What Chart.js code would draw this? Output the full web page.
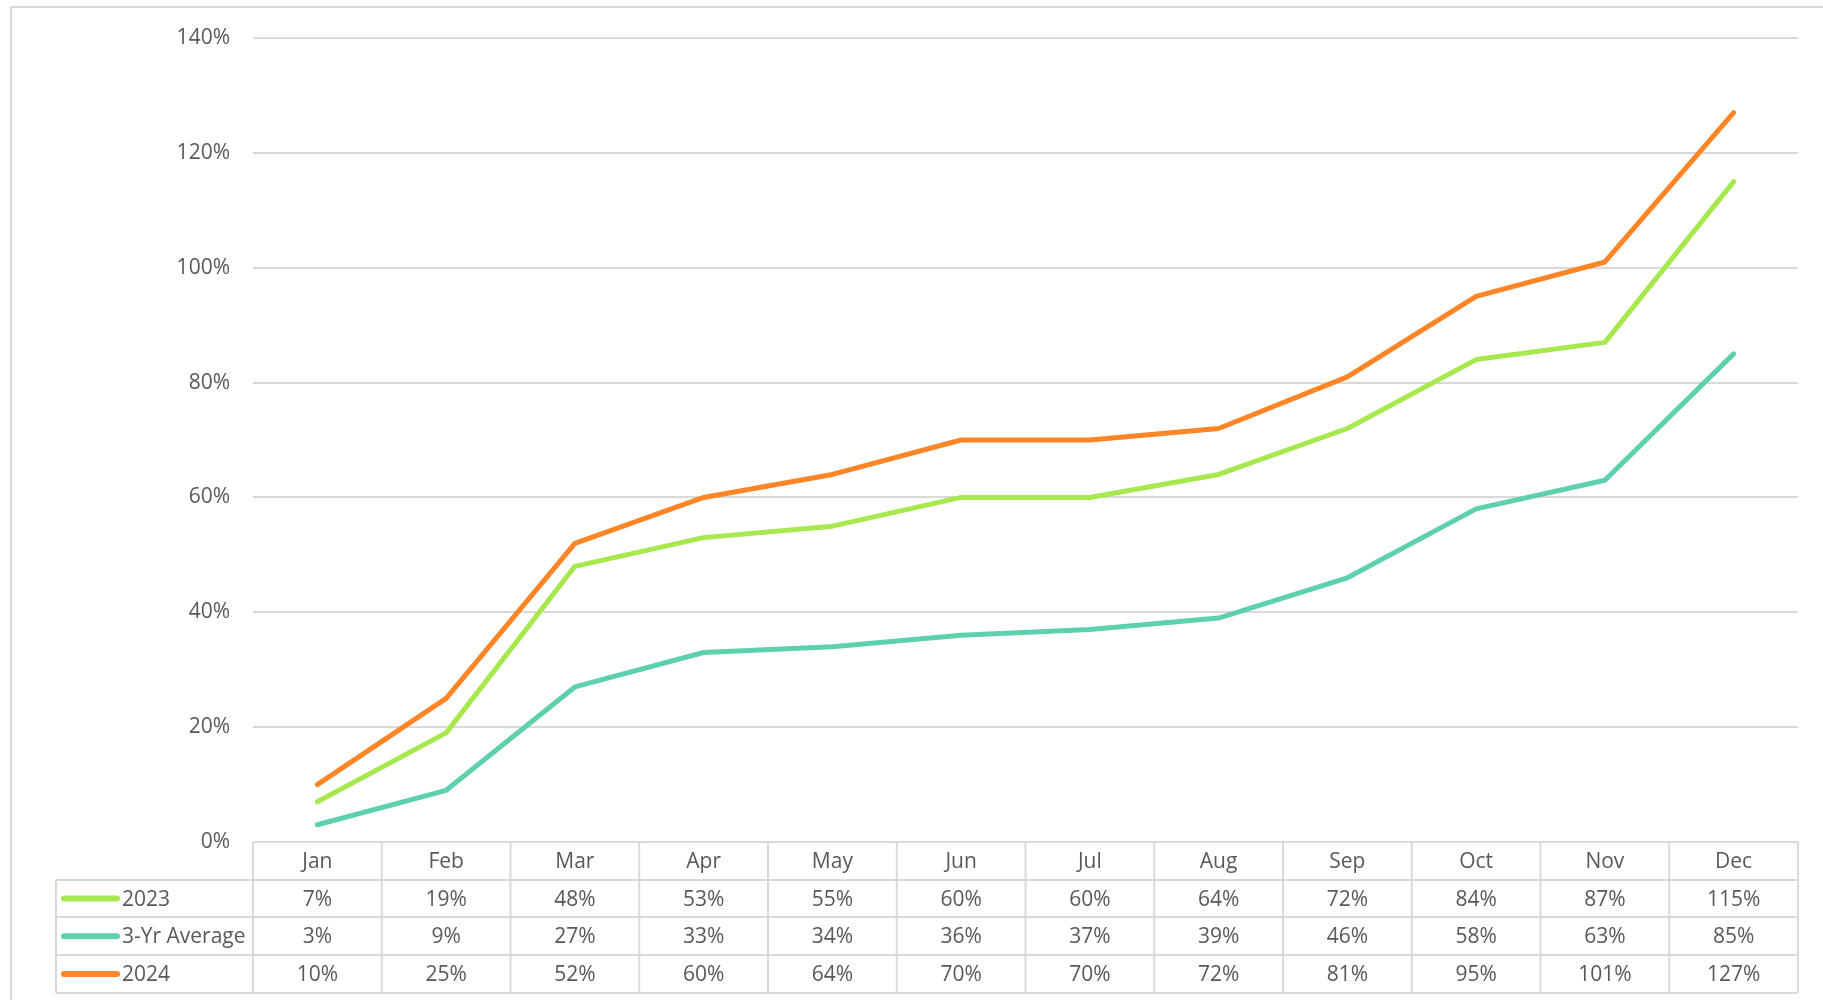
<!DOCTYPE html>
<html>
<head>
<meta charset="utf-8">
<script src="https://cdn.jsdelivr.net/npm/chart.js@4"></script>
<style>
    html, body { margin: 0; padding: 0; background: #fff; }
    #wrap { position: relative; width: 1823px; height: 1000px; }
</style>
</head>
<body>
<div id="wrap"><canvas id="chart"></canvas></div>
<script>
const months = ['Jan', 'Feb', 'Mar', 'Apr', 'May', 'Jun', 'Jul', 'Aug', 'Sep', 'Oct', 'Nov', 'Dec'];
const seriesNames = ['2023', '3-Yr Average', '2024'];
const values2023 = [7, 19, 48, 53, 55, 60, 60, 64, 72, 84, 87, 115];
const valuesAvg = [3, 9, 27, 33, 34, 36, 37, 39, 46, 58, 63, 85];
const values2024 = [10, 25, 52, 60, 64, 70, 70, 72, 81, 95, 101, 127];
const yTicks = [0, 20, 40, 60, 80, 100, 120, 140];

const colors = ['#a6e84e', '#5ed0ae', '#ff8526'];
const gridColor = '#d9d9d9';
const textColor = '#595959';
const fontFamily = '"Open Sans", sans-serif';
const fontSize = 21;

// Draws the outer frame + the data table under the plot
const dataTablePlugin = {
    id: 'dataTable',
    beforeDraw(chart) {
        const ctx = chart.ctx;
        ctx.save();
        ctx.strokeStyle = gridColor;
        ctx.lineWidth = 2;
        ctx.beginPath();
        ctx.moveTo(11, 1000);
        ctx.lineTo(11, 7);
        ctx.lineTo(1823, 7);
        ctx.stroke();
        ctx.restore();
    },
    afterDraw(chart) {
        const ctx = chart.ctx;
        const xs = chart.scales.x;
        const area = chart.chartArea;
        const n = months.length;
        const colW = (xs.right - xs.left) / n;
        const rowH = 37.7;
        const top = area.bottom;
        const legendLeft = 56;
        const rows = [values2023, valuesAvg, values2024];
        const bottom = top + rowH * (rows.length + 1);

        ctx.save();
        ctx.strokeStyle = gridColor;
        ctx.lineWidth = 2;
        ctx.beginPath();
        // horizontal lines
        ctx.moveTo(xs.left, top); ctx.lineTo(xs.right, top);
        for (let r = 1; r <= rows.length + 1; r++) {
            const y = Math.round(top + r * rowH);
            ctx.moveTo(legendLeft, y); ctx.lineTo(xs.right, y);
        }
        // vertical lines
        ctx.moveTo(legendLeft, Math.round(top + rowH)); ctx.lineTo(legendLeft, bottom);
        for (let i = 0; i <= n; i++) {
            const x = xs.left + i * colW;
            ctx.moveTo(x, top); ctx.lineTo(x, bottom);
        }
        ctx.stroke();

        ctx.font = fontSize + 'px ' + fontFamily;
        ctx.fillStyle = textColor;
        ctx.textBaseline = 'middle';
        ctx.textAlign = 'center';
        months.forEach((m, i) => {
            ctx.fillText(m, xs.getPixelForValue(i), top + rowH / 2 + 1);
        });
        rows.forEach((vals, r) => {
            const yc = top + (r + 1) * rowH + rowH / 2 + 1;
            ctx.textAlign = 'center';
            ctx.fillStyle = textColor;
            vals.forEach((v, i) => {
                ctx.fillText(v + '%', xs.getPixelForValue(i), yc);
            });
            // legend key
            ctx.strokeStyle = colors[r];
            ctx.lineWidth = 6;
            ctx.lineCap = 'round';
            ctx.beginPath();
            ctx.moveTo(legendLeft + 8, yc - 1);
            ctx.lineTo(legendLeft + 61, yc - 1);
            ctx.stroke();
            ctx.textAlign = 'left';
            ctx.fillText(seriesNames[r], legendLeft + 66, yc);
        });
        ctx.restore();
    }
};

const ctx = document.getElementById('chart').getContext('2d');
new Chart(ctx, {
    type: 'line',
    data: {
        labels: months,
        datasets: [values2023, valuesAvg, values2024].map((vals, i) => ({
            label: seriesNames[i],
            data: vals,
            borderColor: colors[i],
            backgroundColor: colors[i],
            borderWidth: 5,
            pointRadius: 0,
            tension: 0,
            borderCapStyle: 'round',
            borderJoinStyle: 'round',
            fill: false
        }))
    },
    options: {
        responsive: true,
        maintainAspectRatio: false,
        animation: false,
        layout: { padding: { left: 0, right: 25, top: 38, bottom: 158 } },
        scales: {
            x: { display: false, offset: true },
            y: {
                min: 0,
                max: 140,
                afterBuildTicks: s => { s.ticks = yTicks.map(v => ({ value: v })); },
                afterFit: s => { s.width = 253; },
                border: { display: false },
                grid: { color: gridColor, lineWidth: 2, drawTicks: false },
                ticks: {
                    padding: 23,
                    color: textColor,
                    font: { family: fontFamily, size: fontSize },
                    callback: v => v + '%'
                }
            }
        },
        plugins: {
            legend: { display: false },
            tooltip: { enabled: false }
        }
    },
    plugins: [dataTablePlugin]
});
</script>
</body>
</html>
